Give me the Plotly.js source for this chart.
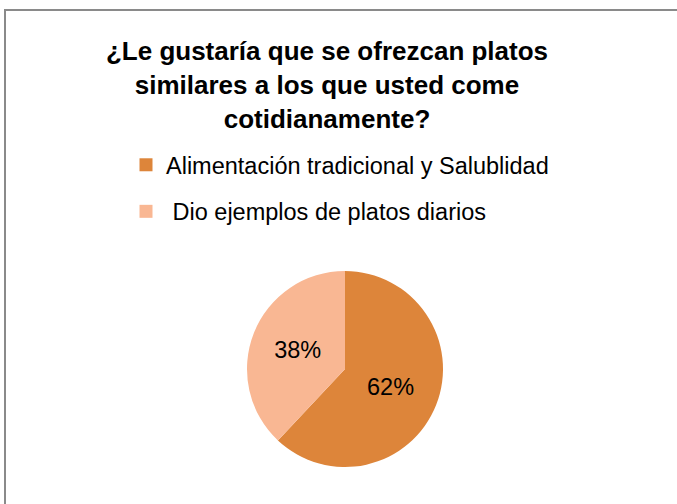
<!DOCTYPE html>
<html>
<head>
<meta charset="utf-8">
<script src="https://cdn.plot.ly/plotly-3.0.1.min.js"></script>
<style>html,body{margin:0;padding:0;background:#fff;}#chart{width:677px;height:504px;}</style>
</head>
<body>
<div id="chart"></div>
<script>
var titleText = "¿Le gustaría que se ofrezcan platos<br>similares a los que usted come<br>cotidianamente?";
var categories = ["Alimentación tradicional y Salublidad", " Dio ejemplos de platos diarios"];
var values = [62, 38];
var colors = ["#DD853A", "#F9B793"];

var traces = [{
  type: "pie",
  labels: categories,
  values: values,
  marker: {colors: colors, line: {width: 0}},
  sort: false,
  direction: "clockwise",
  rotation: 0,
  textinfo: "percent",
  textposition: "inside",
  insidetextorientation: "horizontal",
  textfont: {family: "Liberation Sans, Arial, sans-serif", size: 23.5, color: "#000"},
  showlegend: false,
  domain: {x: [247/677, 443/677], y: [(504-467)/504, (504-271)/504]},
  hoverinfo: "label+percent"
}];
categories.forEach(function (c, i) {
  traces.push({
    type: "scatter", mode: "markers",
    x: [null], y: [null],
    name: c,
    legendgroup: "g" + i,
    marker: {symbol: "square", size: 13, color: colors[i]},
    showlegend: true,
    hoverinfo: "skip"
  });
});

var layout = {
  width: 677, height: 504,
  margin: {l: 0, r: 0, t: 0, b: 0},
  paper_bgcolor: "#fff", plot_bgcolor: "rgba(0,0,0,0)",
  font: {family: "Liberation Sans, Arial, sans-serif", color: "#000"},
  title: {
    text: titleText,
    font: {family: "Liberation Sans, Arial, sans-serif", size: 26, color: "#000", weight: "bold"},
    x: 327/677, xanchor: "center",
    y: 1 - 60/504, yanchor: "top"
  },
  xaxis: {visible: false, domain: [0, 0.01]},
  yaxis: {visible: false, domain: [0, 0.01]},
  legend: {
    x: 126/677, xanchor: "left",
    y: 1 - 143/504, yanchor: "top",
    bgcolor: "rgba(0,0,0,0)",
    font: {family: "Liberation Sans, Arial, sans-serif", size: 23.5, color: "#000"},
    traceorder: "grouped",
    tracegroupgap: 13,
    itemwidth: 30
  },
  shapes: [{
    type: "rect", xref: "paper", yref: "paper",
    x0: 5/677, x1: 1.02, y0: -0.02, y1: 1 - 10/504,
    line: {color: "#8a8a8a", width: 2}
  }]
};

Plotly.newPlot("chart", traces, layout, {staticPlot: true, displayModeBar: false});
</script>
</body>
</html>
